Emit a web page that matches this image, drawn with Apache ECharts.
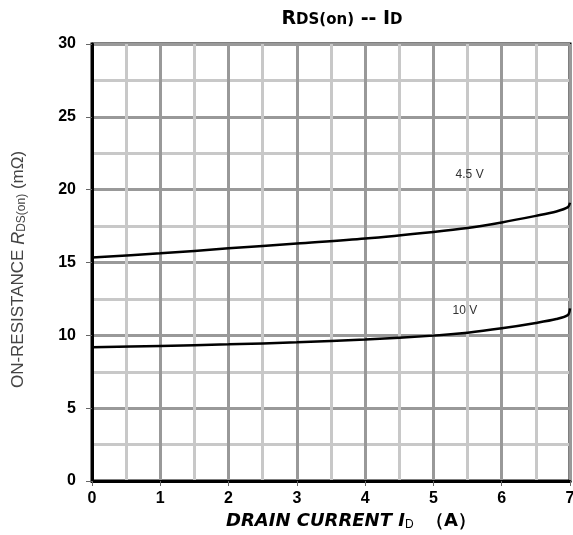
<!DOCTYPE html>
<html>
<head>
<meta charset="utf-8">
<script src="https://cdn.jsdelivr.net/npm/echarts@6/dist/echarts.min.js"></script>
<style>
  html, body { margin: 0; padding: 0; background: #fff; }
  #chart { width: 573px; height: 535px; }
</style>
</head>
<body>
<div id="chart"></div>
<script>
// drain current (A)
const currents = [0, 1, 2, 3, 4, 5, 5.5, 6, 6.5, 6.8, 6.97, 7];
// on-resistance (mOhm) per gate voltage
const rds45 = [15.35, 15.63, 15.97, 16.31, 16.65, 17.1, 17.37, 17.75, 18.2, 18.5, 18.8, 19.1];
const rds10 = [9.18, 9.27, 9.38, 9.52, 9.72, 9.98, 10.18, 10.48, 10.85, 11.12, 11.4, 11.85];
const curveNames = ['4.5 V', '10 V'];
const labelPos = [[5.53, 21.0], [5.46, 11.7]];

const font = 'Liberation Sans, Arial, sans-serif';
const wide = 'DejaVu Sans, Liberation Sans, sans-serif';
const narrow = 'Liberation Sans Narrow, Liberation Sans, Arial, sans-serif';
const chart = echarts.init(document.getElementById('chart'));

function pairs(ys) {
    return currents.map((x, i) => [x, ys[i]]);
}

function curve(name, ys, pos) {
    return {
        name: name, type: 'line', smooth: 0.3, showSymbol: false, data: pairs(ys),
        lineStyle: { color: '#000', width: 2.5 },
        markPoint: {
            symbol: 'circle', symbolSize: 0,
            label: { show: true, formatter: name, color: '#333', fontSize: 12, fontFamily: font },
            data: [{ coord: pos }]
        }
    };
}

const option = {
    animation: false,
    title: {
        text: '{b|R}{s|DS(on)}{b| -- I}{s|D}',
        left: 337, top: 5, textAlign: 'center',
        textStyle: {
            rich: {
                b: { fontSize: 19, fontWeight: 'bold', fontFamily: wide, color: '#000' },
                s: { fontSize: 15, fontWeight: 'bold', fontFamily: wide, color: '#000', padding: [2, 0, 0, 0] }
            }
        }
    },
    grid: { left: 92, right: 3, top: 44, bottom: 54, outerBoundsMode: 'none', containLabel: false,
        show: true, borderColor: '#000', borderWidth: 3, backgroundColor: 'transparent' },
    xAxis: {
        type: 'value', min: 0, max: 7, interval: 1,
        name: '{n|DRAIN CURRENT }{n|I}{d|D}{a|  （A）}',
        nameLocation: 'middle', nameGap: 31,
        nameTextStyle: {
            padding: [0, 0, 0, 40],
            rich: {
                n: { fontSize: 18, fontWeight: 'bold', fontStyle: 'italic', fontFamily: wide, color: '#000' },
                a: { fontSize: 18, fontWeight: 'bold', fontFamily: wide, color: '#000' },
                d: { fontSize: 12, fontFamily: font, color: '#000', padding: [7, 0, 0, 0] }
            }
        },
        axisLine: { lineStyle: { color: '#000', width: 3 } },
        axisTick: { show: true, length: 5, lineStyle: { color: '#666', width: 1 } },
        axisLabel: { color: '#000', fontSize: 16, fontWeight: 'bold', fontFamily: font, margin: 10 },
        splitLine: { show: true, lineStyle: { color: '#999', width: 3 } },
        minorTick: { show: false, splitNumber: 2 },
        minorSplitLine: { show: true, lineStyle: { color: '#c8c8c8', width: 3 } }
    },
    yAxis: {
        type: 'value', min: 0, max: 30, interval: 5,
        name: '{n|ON-RESISTANCE }{i|R}{d|DS(on)}{n| (mΩ)}',
        nameLocation: 'middle', nameGap: 64,
        nameTextStyle: {
            padding: [0, 0, 0, -14],
            rich: {
                n: { fontSize: 17, fontFamily: narrow, color: '#444' },
                i: { fontSize: 18, fontStyle: 'italic', fontFamily: narrow, color: '#444' },
                d: { fontSize: 12, fontFamily: narrow, color: '#444', padding: [7, 0, 0, 0] }
            }
        },
        axisLine: { lineStyle: { color: '#000', width: 3 } },
        axisTick: { show: true, length: 6, lineStyle: { color: '#666', width: 1 } },
        axisLabel: { color: '#000', fontSize: 16, fontWeight: 'bold', fontFamily: font, margin: 16 },
        splitLine: { show: true, lineStyle: { color: '#999', width: 3 } },
        minorTick: { show: false, splitNumber: 2 },
        minorSplitLine: { show: true, lineStyle: { color: '#c8c8c8', width: 3 } }
    },
    series: [
        curve(curveNames[0], rds45, labelPos[0]),
        curve(curveNames[1], rds10, labelPos[1])
    ]
};
chart.setOption(option);
</script>
</body>
</html>
